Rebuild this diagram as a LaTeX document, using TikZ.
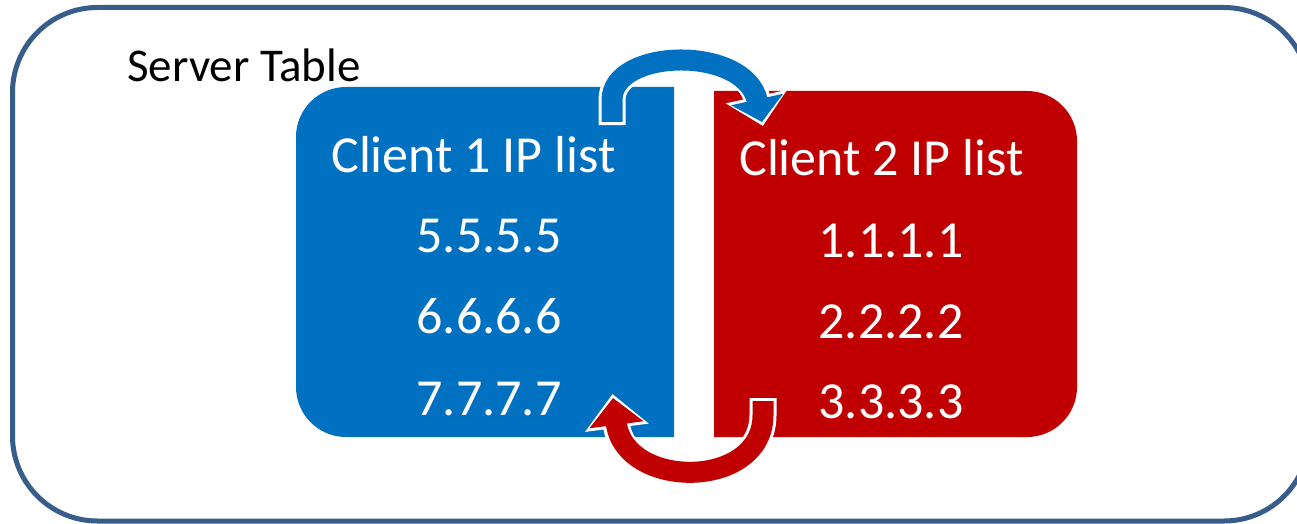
\documentclass[tikz,border=0pt]{standalone}
\usepackage{fontspec}
\setmainfont{Carlito}
\usetikzlibrary{arrows.meta}
\definecolor{frameblue}{RGB}{56,93,138}
\definecolor{listblue}{RGB}{0,112,192}
\definecolor{listred}{RGB}{192,0,0}
\tikzset{
  listtext/.style={text=white, font=\fontsize{52}{60}\selectfont, anchor=base, inner sep=0pt},
  titletext/.style={text=black, font=\fontsize{47}{56}\selectfont, anchor=base west, inner sep=0pt},
  panel/.style={inner sep=0pt, outer sep=0pt, anchor=north west},
  halo/.style={white, line width=27pt, shorten <=-3pt, shorten >=-4pt},
  swapline/.style={line width=21pt},
}
\begin{document}
\begin{tikzpicture}[x=1pt,y=-1pt]
\useasboundingbox (0,0) rectangle (1297,524);
\clip (0,0) rectangle (1297,524);
\fill[white] (0,0) rectangle (1297,524);

% outer server frame
\node[panel, draw=frameblue, line width=5pt, rounded corners=85pt,
      minimum width=1296.5pt, minimum height=513.5pt] (server) at (12.5,7.5) {};

% the two client panels (rounded on their outer side only)
\node[panel, minimum width=378pt, minimum height=350pt] (c1) at (296,87) {};
\node[panel, minimum width=363pt, minimum height=346pt] (c2) at (714,91) {};
\begin{scope}
  \clip (c1.north west) rectangle (c1.south east);
  \fill[listblue, rounded corners=50pt] (c1.north west) rectangle ([xshift=60pt]c1.south east);
\end{scope}
\begin{scope}
  \clip (c2.north west) rectangle (c2.south east);
  \fill[listred, rounded corners=50pt] ([xshift=-60pt]c2.north west) rectangle (c2.south east);
\end{scope}

% swap arrows
\coordinate (upfoot) at (612,122);
\coordinate (upbend) at (612,100);
\coordinate (uptip) at (762,122);
\coordinate (downfoot) at (763,401);
\coordinate (downbend) at (763,415);
\coordinate (downtip) at (613,398);

\draw[halo, -{Triangle[length=30pt,width=61pt]}]
  (upfoot) -- (upbend) .. controls +(0,-52) and +(-17,-77) .. (uptip);
\draw[listblue, swapline, -{Triangle[length=23pt,width=52pt]}]
  (upfoot) -- (upbend) .. controls +(0,-52) and +(-17,-77) .. (uptip);

\draw[halo, -{Triangle[length=34pt,width=62pt]}]
  (downfoot) -- (downbend) .. controls +(0,75) and +(12,92) .. (downtip);
\draw[listred, swapline, -{Triangle[length=27pt,width=53pt]}]
  (downfoot) -- (downbend) .. controls +(0,75) and +(12,92) .. (downtip);

% texts
\node[titletext] (title) at (127,82) {Server Table};
\node[listtext] (h1) at (473.5,172) {Client 1 IP list};
\node[listtext] (a1) at (489,252) {5.5.5.5};
\node[listtext] (a2) at (489,333) {6.6.6.6};
\node[listtext] (a3) at (489,415) {7.7.7.7};
\node[listtext] (h2) at (881.5,175) {Client 2 IP list};
\node[listtext] (b1) at (891,257) {1.1.1.1};
\node[listtext] (b2) at (891,338) {2.2.2.2};
\node[listtext] (b3) at (891,418) {3.3.3.3};
\end{tikzpicture}
\end{document}
